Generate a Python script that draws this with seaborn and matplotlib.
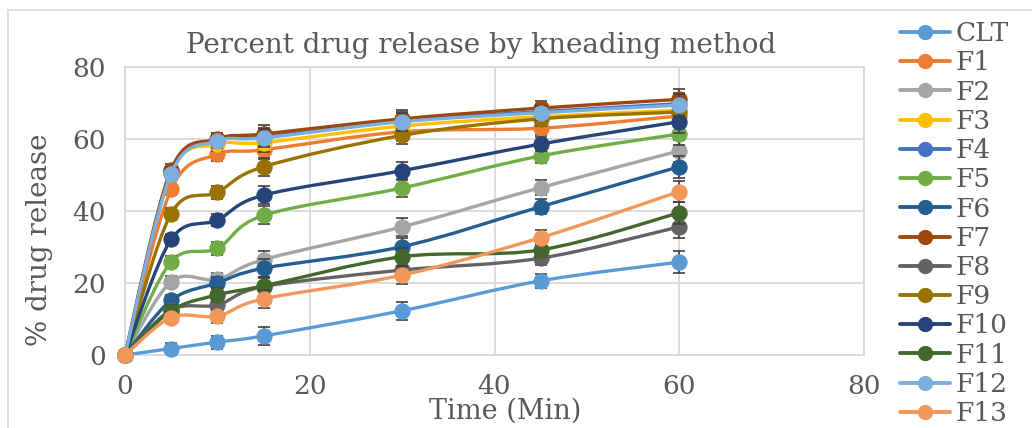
import numpy as np
import pandas as pd
import matplotlib
matplotlib.use("Agg")
import matplotlib.pyplot as plt
import seaborn as sns
from matplotlib.path import Path
from matplotlib.patches import PathPatch
from matplotlib.lines import Line2D

# ---------------- data ----------------
time_min = [0, 5, 10, 15, 30, 45, 60]
series_names = ["CLT", "F1", "F2", "F3", "F4", "F5", "F6", "F7",
                "F8", "F9", "F10", "F11", "F12", "F13"]
clt = [0, 1.8, 3.6, 5.3, 12.3, 20.6, 25.8]
f1 = [0, 46.0, 55.7, 57.0, 62.0, 63.0, 66.4]
f2 = [0, 20.4, 21.0, 26.5, 35.6, 46.5, 56.7]
f3 = [0, 50.6, 58.5, 59.0, 63.6, 66.2, 68.0]
f4 = [0, 50.8, 59.8, 60.6, 65.0, 67.6, 69.8]
f5 = [0, 25.9, 29.6, 38.8, 46.4, 55.3, 61.4]
f6 = [0, 15.2, 20.0, 24.1, 30.1, 41.2, 52.3]
f7 = [0, 51.5, 60.0, 61.4, 65.6, 68.6, 71.0]
f8 = [0, 12.5, 13.9, 19.0, 23.6, 26.9, 35.6]
f9 = [0, 39.3, 45.2, 52.3, 61.0, 65.6, 67.5]
f10 = [0, 32.1, 37.5, 44.4, 51.2, 58.6, 64.8]
f11 = [0, 12.3, 16.7, 19.2, 27.3, 29.2, 39.5]
f12 = [0, 50.4, 59.4, 60.3, 64.8, 67.3, 69.4]
f13 = [0, 10.4, 10.8, 15.6, 22.2, 32.6, 45.4]
errors = [0, 1.5, 1.8, 2.5, 2.5, 2.0, 3.0]

values = [clt, f1, f2, f3, f4, f5, f6, f7, f8, f9, f10, f11, f12, f13]
colors = ["#5B9BD5", "#ED7D31", "#A5A5A5", "#FFC000", "#4472C4", "#70AD47",
          "#255E91", "#9E480E", "#636363", "#997300", "#264478", "#43682B",
          "#7CAFDD", "#F1975A"]

df = pd.DataFrame({
    "Time": np.tile(time_min, len(series_names)),
    "Release": np.concatenate(values),
    "Series": np.repeat(series_names, len(time_min)),
})

# ---------------- style ----------------
sns.set_theme(style="white")
plt.rcParams["font.family"] = ["DejaVu Serif"]
text_color = "#595959"
grid_color = "#D9D9D9"

fig = plt.figure(figsize=(10.32, 4.28), dpi=100)
ax = fig.add_axes([125 / 1032, 1 - 355 / 428, (864 - 125) / 1032, (355 - 67) / 428])


def smooth_path(xs, ys):
    xs = np.asarray(xs, float)
    ys = np.asarray(ys, float)
    n = len(xs)
    verts = [(xs[0], ys[0])]
    codes = [Path.MOVETO]
    for i in range(n - 1):
        p0 = i - 1 if i > 0 else i
        p3 = i + 2 if i + 2 < n else i + 1
        c1 = (xs[i] + (xs[i + 1] - xs[p0]) / 6, ys[i] + (ys[i + 1] - ys[p0]) / 6)
        c2 = (xs[i + 1] - (xs[p3] - xs[i]) / 6, ys[i + 1] - (ys[p3] - ys[i]) / 6)
        verts += [c1, c2, (xs[i + 1], ys[i + 1])]
        codes += [Path.CURVE4] * 3
    return Path(verts, codes)


for k, (name, col) in enumerate(zip(series_names, colors)):
    sub = df[df["Series"] == name]
    z = 3 + k * 0.1
    patch = PathPatch(smooth_path(sub["Time"], sub["Release"]), facecolor="none",
                      edgecolor=col, lw=2.4, zorder=z, capstyle="round", joinstyle="round")
    ax.add_patch(patch)
    ax.errorbar(sub["Time"], sub["Release"], yerr=errors, fmt="none",
                ecolor="#404040", elinewidth=1.2, capsize=4, capthick=1.2,
                zorder=z + 0.01, clip_on=False)
    sns.scatterplot(data=sub, x="Time", y="Release", color=col, s=120,
                    edgecolor=col, linewidth=0.8, ax=ax, zorder=z + 0.02,
                    legend=False, clip_on=False)

ax.set_xlim(0, 80)
ax.set_ylim(0, 80)
ax.set_xticks([0, 20, 40, 60, 80])
ax.set_yticks([0, 20, 40, 60, 80])
ax.grid(True, color=grid_color, lw=1.3)
ax.set_axisbelow(True)
for s in ax.spines.values():
    s.set_color(grid_color)
    s.set_linewidth(1.3)
ax.tick_params(axis="both", length=0, labelsize=19, colors=text_color, pad=14)
ax.set_xlabel("Time (Min)", fontsize=19.5, color=text_color)
ax.xaxis.set_label_coords(0.514, -0.148)
ax.set_ylabel("% drug release", fontsize=20, color=text_color)
ax.yaxis.set_label_coords(-0.097, 0.40)
ax.set_title("Percent drug release by kneading method", fontsize=20,
             color=text_color, x=0.482, y=1.076, pad=0, va="center")

handles = [Line2D([0], [0], color=c, lw=2.8, marker="o", markersize=10,
                  markerfacecolor=c, markeredgecolor=c) for c in colors]
fig.legend(handles, series_names, loc="upper left", bbox_to_anchor=(0.862, 0.975),
           frameon=False, fontsize=19, handlelength=1.9, handletextpad=0.2,
           labelspacing=0.16, borderaxespad=0, labelcolor=text_color)

# outer chart border
fig.add_artist(Line2D([8 / 1032, 8 / 1032], [0, 1 - 10 / 428], color=grid_color,
                      lw=1.2, transform=fig.transFigure))
fig.add_artist(Line2D([8 / 1032, 1], [1 - 10 / 428, 1 - 10 / 428], color=grid_color,
                      lw=1.2, transform=fig.transFigure))

fig.savefig("out.png", dpi=100)
